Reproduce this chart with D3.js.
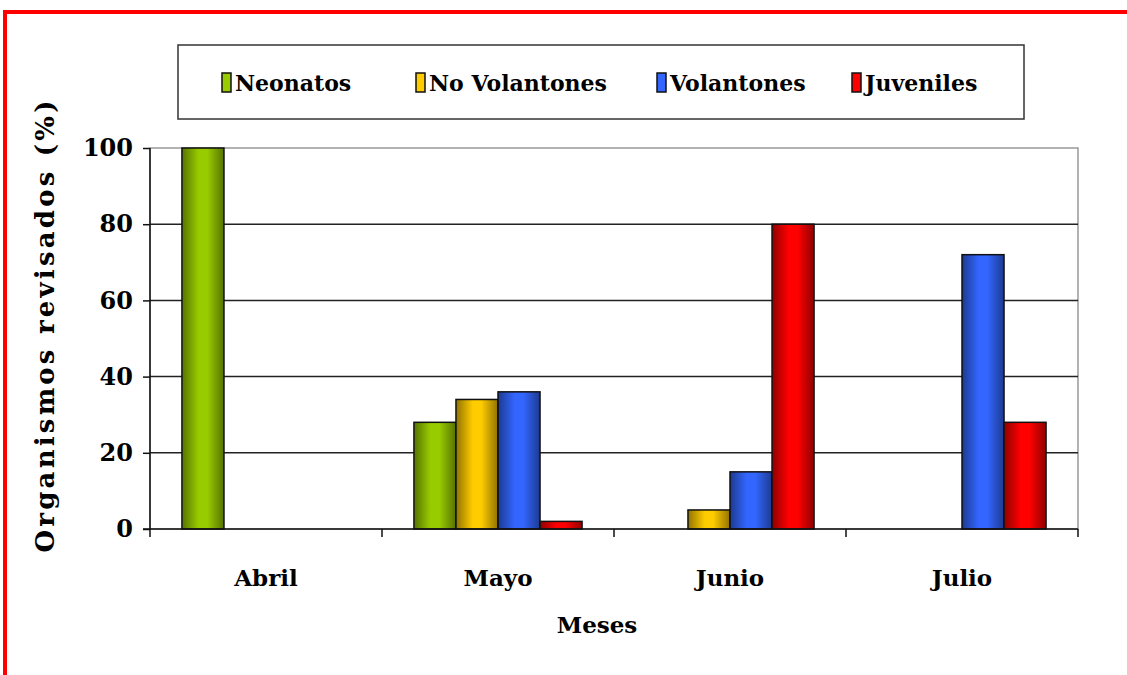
<!DOCTYPE html>
<html>
<head>
<meta charset="utf-8">
<script src="https://cdn.jsdelivr.net/npm/d3@7"></script>
<style>
  body { margin: 0; background: #fff; }
  svg { display: block; }
</style>
</head>
<body>
<div id="chart"></div>
<script>
'use strict'

// data
const months = ["Abril", "Mayo", "Junio", "Julio"];
const series = ["Neonatos", "No Volantones", "Volantones", "Juveniles"];
const neonatos = [100, 28, 0, 0];
const noVolantones = [0, 34, 5, 0];
const volantones = [0, 36, 15, 72];
const juveniles = [0, 2, 80, 28];
const yTicks = [0, 20, 40, 60, 80, 100];

const values = [neonatos, noVolantones, volantones, juveniles];
const colors = ["#99CC00", "#FFCC00", "#3366FF", "#FF0000"];

const rows = [];
months.forEach((m, i) => {
  series.forEach((s, j) => {
    rows.push({ month: m, serie: s, idx: j, value: values[j][i] });
  });
});

const width = 1127, height = 675;
const margin = { top: 148, right: 49, bottom: 146, left: 150 };

const svg = d3.select('#chart').append('svg')
  .attr('width', width)
  .attr('height', height);

// gradients (dark edges, bright middle)
const defs = svg.append('defs');
colors.forEach((c, i) => {
  const dark = d3.color(c).darker(1.6);
  const g = defs.append('linearGradient')
    .attr('id', 'grad' + i)
    .attr('x1', '0%').attr('x2', '100%').attr('y1', '0%').attr('y2', '0%');
  g.append('stop').attr('offset', '0%').attr('stop-color', dark);
  g.append('stop').attr('offset', '40%').attr('stop-color', c);
  g.append('stop').attr('offset', '60%').attr('stop-color', c);
  g.append('stop').attr('offset', '100%').attr('stop-color', dark);
});

// red frame
svg.append('path')
  .attr('d', `M5,${height} L5,12 L${width},12`)
  .attr('fill', 'none')
  .attr('stroke', '#FF0000')
  .attr('stroke-width', 4);

const x0 = d3.scaleBand()
  .domain(months)
  .range([margin.left, width - margin.right])
  .padding(0);

const x1 = d3.scaleBand()
  .domain(series)
  .range([0, x0.bandwidth()])
  .paddingInner(0)
  .paddingOuter(0.76);

const y = d3.scaleLinear()
  .domain([0, 100])
  .range([height - margin.bottom, margin.top]);

// plot border
svg.append('rect')
  .attr('x', margin.left)
  .attr('y', margin.top)
  .attr('width', width - margin.left - margin.right)
  .attr('height', height - margin.top - margin.bottom)
  .attr('fill', 'none')
  .attr('stroke', '#999')
  .attr('stroke-width', 1.5);

// gridlines
svg.append('g')
  .selectAll('line')
  .data(yTicks.filter(d => d > 0 && d < 100))
  .join('line')
  .attr('x1', margin.left)
  .attr('x2', width - margin.right)
  .attr('y1', d => y(d))
  .attr('y2', d => y(d))
  .attr('stroke', '#222')
  .attr('stroke-width', 1.5);

// bars
svg.append('g')
  .selectAll('rect')
  .data(rows.filter(d => d.value > 0))
  .join('rect')
  .attr('x', d => x0(d.month) + x1(d.serie))
  .attr('y', d => y(d.value))
  .attr('width', x1.bandwidth())
  .attr('height', d => y(0) - y(d.value))
  .attr('fill', d => `url(#grad${d.idx})`)
  .attr('stroke', '#111')
  .attr('stroke-width', 1.5);

// y axis
const yAxis = svg.append('g')
  .attr('transform', `translate(${margin.left},0)`)
  .call(d3.axisLeft(y).tickValues(yTicks).tickSize(7).tickPadding(10));
yAxis.select('.domain').attr('stroke', '#111').attr('stroke-width', 1.5).attr('d', `M0,${margin.top}V${y(0) + 8}`);
yAxis.selectAll('.tick line').attr('stroke', '#111').attr('stroke-width', 1.5);
yAxis.selectAll('text')
  .attr('font-family', 'DejaVu Serif')
  .attr('font-weight', 'bold')
  .attr('font-size', 24)
  .attr('fill', '#000');

// x axis baseline + boundary ticks
const xg = svg.append('g');
xg.append('line')
  .attr('x1', margin.left - 7).attr('x2', width - margin.right)
  .attr('y1', y(0)).attr('y2', y(0))
  .attr('stroke', '#111').attr('stroke-width', 1.5);
xg.selectAll('.xtick')
  .data(months.slice(1).concat(['end']))
  .join('line')
  .attr('x1', d => d === 'end' ? width - margin.right : x0(d))
  .attr('x2', d => d === 'end' ? width - margin.right : x0(d))
  .attr('y1', y(0))
  .attr('y2', y(0) + 8)
  .attr('stroke', '#111').attr('stroke-width', 1.5);
xg.selectAll('.xlabel')
  .data(months)
  .join('text')
  .attr('x', d => x0(d) + x0.bandwidth() / 2)
  .attr('y', 586)
  .attr('text-anchor', 'middle')
  .attr('font-family', 'DejaVu Serif')
  .attr('font-weight', 'bold')
  .attr('font-size', 23)
  .text(d => d);

// axis titles
svg.append('text')
  .attr('x', 597)
  .attr('y', 633)
  .attr('text-anchor', 'middle')
  .attr('font-family', 'DejaVu Serif')
  .attr('font-weight', 'bold')
  .attr('font-size', 23)
  .text('Meses');

svg.append('text')
  .attr('transform', `translate(54,${(100 + 553) / 2}) rotate(-90)`)
  .attr('text-anchor', 'middle')
  .attr('font-family', 'DejaVu Serif')
  .attr('font-weight', 'bold')
  .attr('font-size', 26)
  .attr('textLength', 452)
  .attr('lengthAdjust', 'spacing')
  .text('Organismos revisados (%)');

// legend
const legend = svg.append('g');
legend.append('rect')
  .attr('x', 178).attr('y', 45)
  .attr('width', 846).attr('height', 74)
  .attr('fill', '#fff')
  .attr('stroke', '#333')
  .attr('stroke-width', 1.5);

const legendX = [222, 416, 657, 852];
const item = legend.selectAll('.item')
  .data(series)
  .join('g')
  .attr('transform', (d, i) => `translate(${legendX[i]},83)`);
item.append('rect')
  .attr('x', 0).attr('y', -10)
  .attr('width', 9).attr('height', 19)
  .attr('fill', (d, i) => colors[i])
  .attr('stroke', '#111')
  .attr('stroke-width', 1.5);
item.append('text')
  .attr('x', 13)
  .attr('y', 8)
  .attr('font-family', 'DejaVu Serif')
  .attr('font-weight', 'bold')
  .attr('font-size', 22)
  .text(d => d);
</script>
</body>
</html>
